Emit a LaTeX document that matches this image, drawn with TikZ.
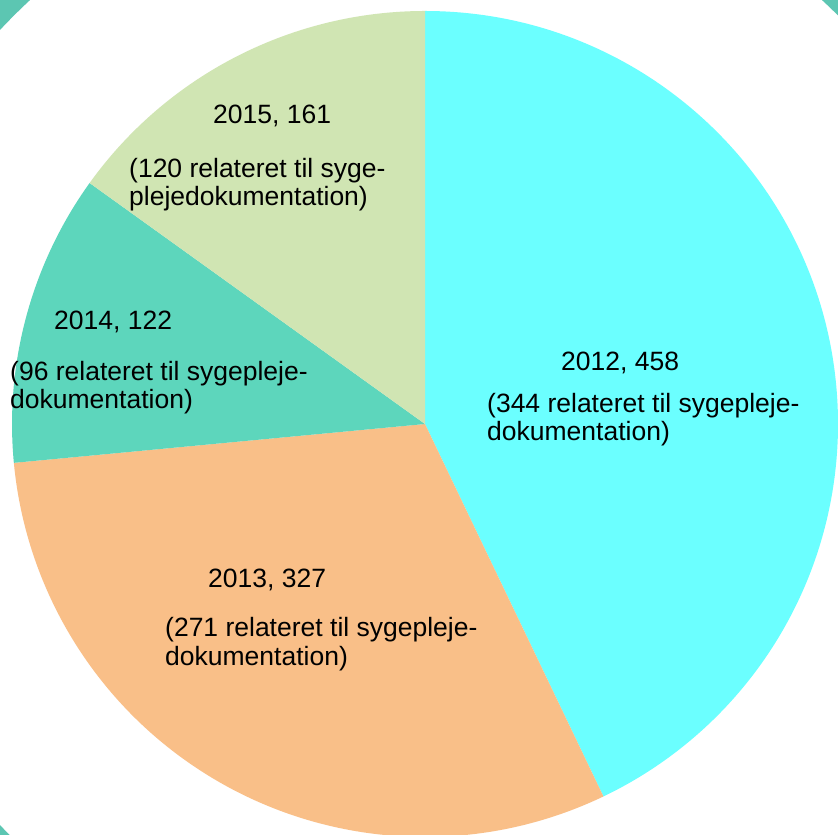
\documentclass[tikz,border=0pt]{standalone}
\usepackage{fontspec}
\setmainfont{Liberation Sans}
\definecolor{bgteal}{HTML}{5CC6B2}
\definecolor{cA}{HTML}{6BFFFF}
\definecolor{cB}{HTML}{F9BF88}
\definecolor{cC}{HTML}{5DD6BC}
\definecolor{cD}{HTML}{D0E5B3}
\tikzset{lbl/.style={anchor=base west, inner sep=0pt, font=\fontsize{26.5}{28.5}\selectfont, text=black}}
\begin{document}
\begin{tikzpicture}[x=1pt,y=1pt]
\useasboundingbox (0,0) rectangle (838,835);
\fill[bgteal] (0,0) rectangle (838,835);
\coordinate (w) at (426,407.5);
\fill[white] (w) circle[radius=582.5pt];
\coordinate (c) at (425,411);
\fill[cA] (c) -- ++(90:413pt) arc[start angle=90, end angle=-64.4, radius=413pt] -- cycle;
\fill[cB] (c) -- ++(-64.4:413pt) arc[start angle=-64.4, end angle=-174.6, radius=413pt] -- cycle;
\fill[cC] (c) -- ++(-174.6:413pt) arc[start angle=-174.6, end angle=-215.7, radius=413pt] -- cycle;
\fill[cD] (c) -- ++(-215.7:413pt) arc[start angle=-215.7, end angle=-270, radius=413pt] -- cycle;
% 2012
\node[lbl] (a1) at (561,{835-371}) {2012, 458};
\node[lbl] (a2) at (487,{835-413}) {(344 relateret til sygepleje-};
\node[lbl] (a3) at (487,{835-441}) {dokumentation)};
% 2013
\node[lbl] (b1) at (208,{835-588}) {2013, 327};
\node[lbl] (b2) at (165,{835-637}) {(271 relateret til sygepleje-};
\node[lbl] (b3) at (165,{835-666}) {dokumentation)};
% 2014
\node[lbl] (d1) at (54,{835-330}) {2014, 122};
\node[lbl] (d2) at (10,{835-381}) {(96 relateret til sygepleje-};
\node[lbl] (d3) at (10,{835-409}) {dokumentation)};
% 2015
\node[lbl] (e1) at (213,{835-124}) {2015, 161};
\node[lbl] (e2) at (129,{835-178}) {(120 relateret til syge-};
\node[lbl] (e3) at (129,{835-206}) {plejedokumentation)};
\end{tikzpicture}
\end{document}
